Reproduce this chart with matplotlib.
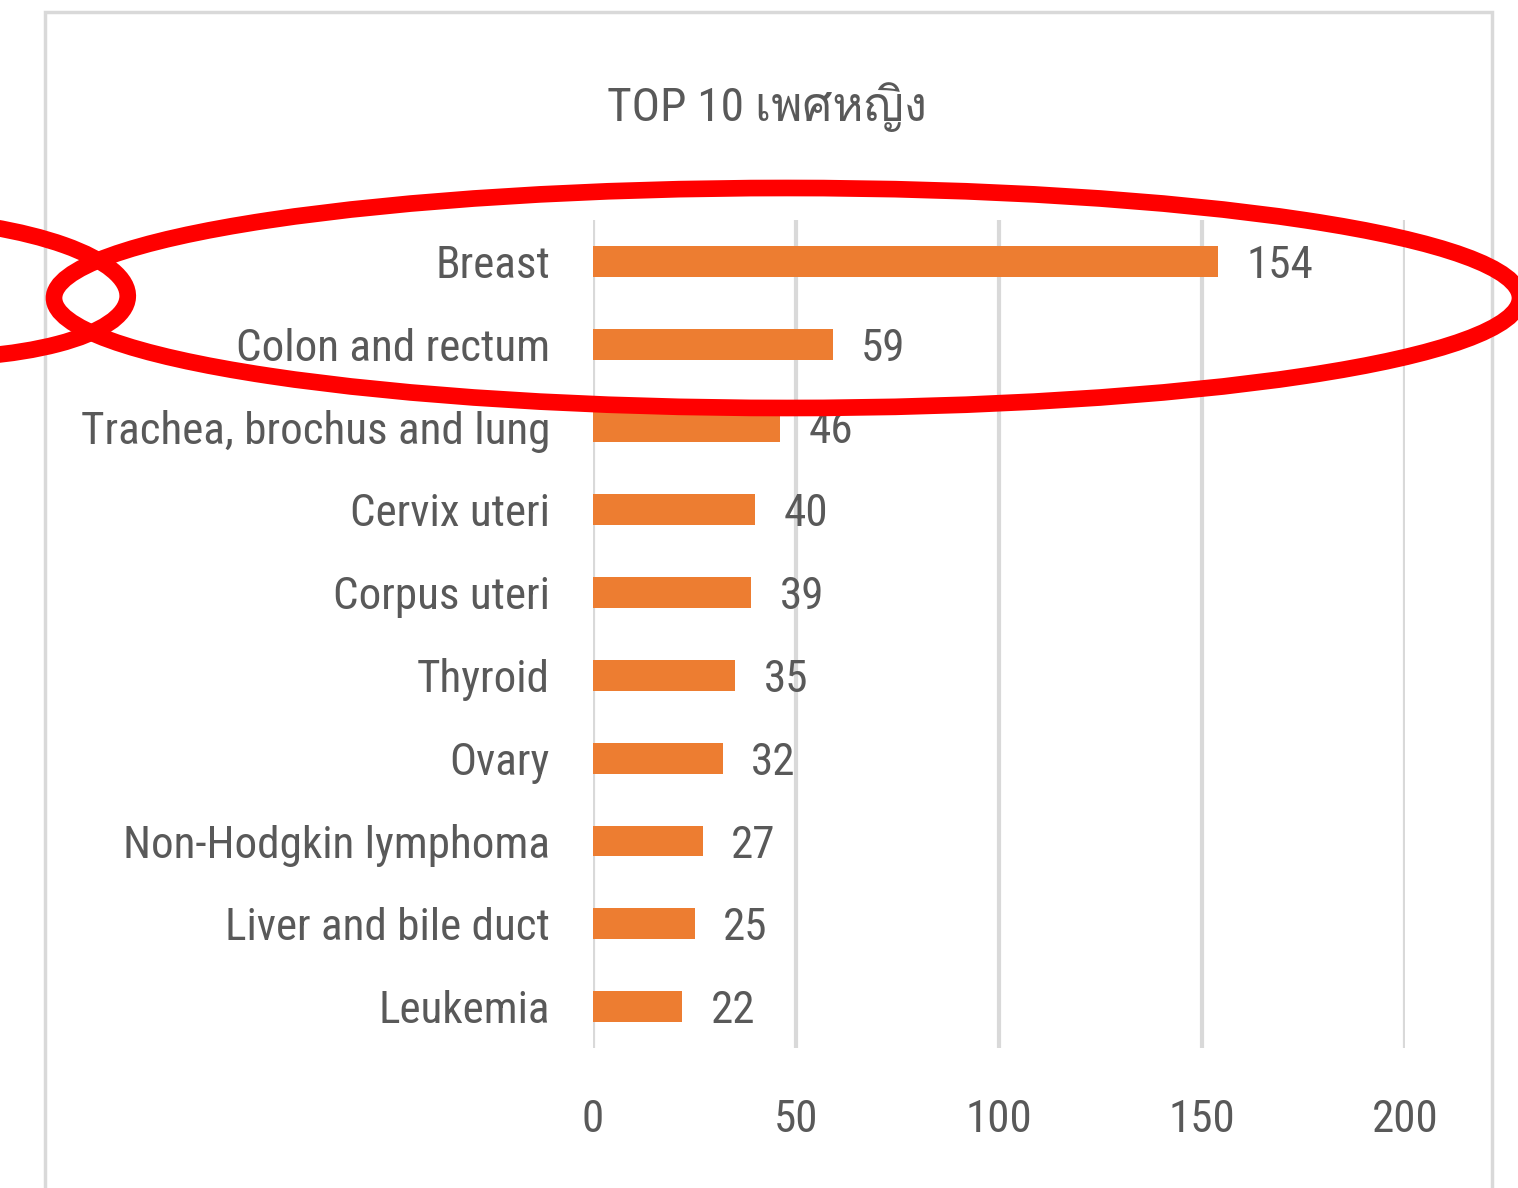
import matplotlib
matplotlib.use('Agg')
import matplotlib.pyplot as plt
from matplotlib import font_manager
from matplotlib.ft2font import FT2Font
from matplotlib.patches import Ellipse, Rectangle

categories = ['Breast', 'Colon and rectum', 'Trachea, brochus and lung', 'Cervix uteri',
              'Corpus uteri', 'Thyroid', 'Ovary', 'Non-Hodgkin lymphoma',
              'Liver and bile duct', 'Leukemia']
values = [154, 59, 46, 40, 39, 35, 32, 27, 25, 22]
xticks = [0, 50, 100, 150, 200]
title = 'TOP 10 เพศหญิง'

BAR = '#ED7D31'
TXT = '#595959'
GRID = '#D9D9D9'

# a narrow font looks closest to the Calibri used in the original
installed = {f.name for f in font_manager.fontManager.ttflist}
narrow = 'DejaVu Sans'
for name in ['Liberation Sans Narrow', 'Roboto Condensed', 'Open Sans Condensed',
             'DejaVu Sans Condensed', 'Noto Sans Condensed', 'Liberation Sans']:
    if name in installed:
        narrow = name
        break

# find some installed font that has Thai glyphs for the title
thai_font = None
for f in font_manager.fontManager.ttflist:
    try:
        if 0x0E40 in FT2Font(f.fname).get_charmap():
            thai_font = f.name
            break
    except Exception:
        pass

main = [narrow, 'DejaVu Sans']
title_fam = [narrow] + ([thai_font] if thai_font else []) + ['DejaVu Sans']

fig = plt.figure(figsize=(15.18, 11.88), dpi=100)

# size the labels so the longest one is as wide as in the original (~470 px)
probe = fig.text(0, 0, categories[2], fontsize=30, family=main)
w = probe.get_window_extent(renderer=fig.canvas.get_renderer()).width
probe.remove()
fs = 30 * 470 / w

ax = fig.add_axes([593 / 1518, 1 - 1048 / 1188, 812 / 1518, 828 / 1188])

y = list(range(len(categories)))
ax.barh(y, values, height=0.37, color=BAR, zorder=3)
for yi, v in zip(y, values):
    ax.text(v + 7, yi, str(v), va='center_baseline', ha='left', fontsize=fs,
            color=TXT, family=main)

ax.set_xlim(0, 200)
ax.set_ylim(len(categories) - 0.5, -0.5)
ax.set_yticks(y)
ax.set_yticklabels(categories, fontsize=fs, color=TXT, family=main)
ax.set_xticks(xticks)
ax.set_xticklabels([str(t) for t in xticks], fontsize=fs, color=TXT, family=main)
ax.tick_params(length=0, pad=31, axis='y')
ax.tick_params(length=0, pad=37, axis='x')
ax.xaxis.grid(True, color=GRID, linewidth=3, zorder=0)
for s in ax.spines.values():
    s.set_visible(False)

fig.text(767 / 1518, 1 - 107 / 1188, title, ha='center', va='center',
         fontsize=fs * 1.05, color=TXT, family=title_fam)

# chart border
fig.patches.append(Rectangle((45 / 1518, -0.05), 1447 / 1518, 1.05 - 12 / 1188,
                             transform=fig.transFigure, fill=False,
                             edgecolor=GRID, linewidth=2.5))

# red marker ellipses drawn over the chart
fig.patches.append(Ellipse((787 / 1518, 1 - 298 / 1188), 1466 / 1518, 220 / 1188,
                           transform=fig.transFigure, fill=False,
                           edgecolor='#FF0000', linewidth=12, zorder=10))
fig.patches.append(Ellipse((-100 / 1518, 1 - 288 / 1188), 456 / 1518, 140 / 1188,
                           angle=-3, transform=fig.transFigure, fill=False,
                           edgecolor='#FF0000', linewidth=12, zorder=10))

fig.savefig('out.png', dpi=100, facecolor='white')
